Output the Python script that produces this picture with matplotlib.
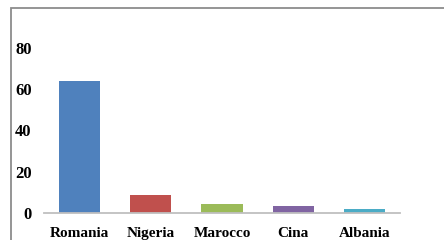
import matplotlib
matplotlib.use("Agg")
import matplotlib.pyplot as plt
from matplotlib.patches import Rectangle

categories = ["Romania", "Nigeria", "Marocco", "Cina", "Albania"]
values = [64, 8.7, 4.4, 3.4, 2]
colors = ["#4F81BD", "#C0504D", "#9BBB59", "#8064A2", "#4BACC6"]
yticks = [0, 20, 40, 60, 80]

fig = plt.figure(figsize=(4.44, 2.40), dpi=100)
# outer chart frame (partly cropped)
fig.patches.append(Rectangle((10.5/444, -0.1), 1.2, (240-7.5)/240 + 0.1,
                             transform=fig.transFigure, fill=False,
                             edgecolor="#8C8C8C", linewidth=1.3))
ax = fig.add_axes([44/444, 27/240, 356/444, 165/240])
ax.bar(range(len(categories)), values, width=0.58, color=colors)
ax.set_xlim(-0.5, len(categories) - 0.5)
ax.set_ylim(0, 80)
ax.set_yticks(yticks)
ax.set_xticks(range(len(categories)))
ax.set_xticklabels(categories)
for s in ["top", "right", "left"]:
    ax.spines[s].set_visible(False)
ax.spines["bottom"].set_color("#BFBFBF")
ax.spines["bottom"].set_linewidth(1.3)
ax.tick_params(axis="x", length=0, labelsize=11, pad=10)
ax.tick_params(axis="y", length=0, labelsize=12, pad=9)
for lab in ax.get_xticklabels() + ax.get_yticklabels():
    lab.set_fontfamily("Liberation Serif")
    lab.set_fontweight("bold")
fig.savefig("out.png", dpi=100)
